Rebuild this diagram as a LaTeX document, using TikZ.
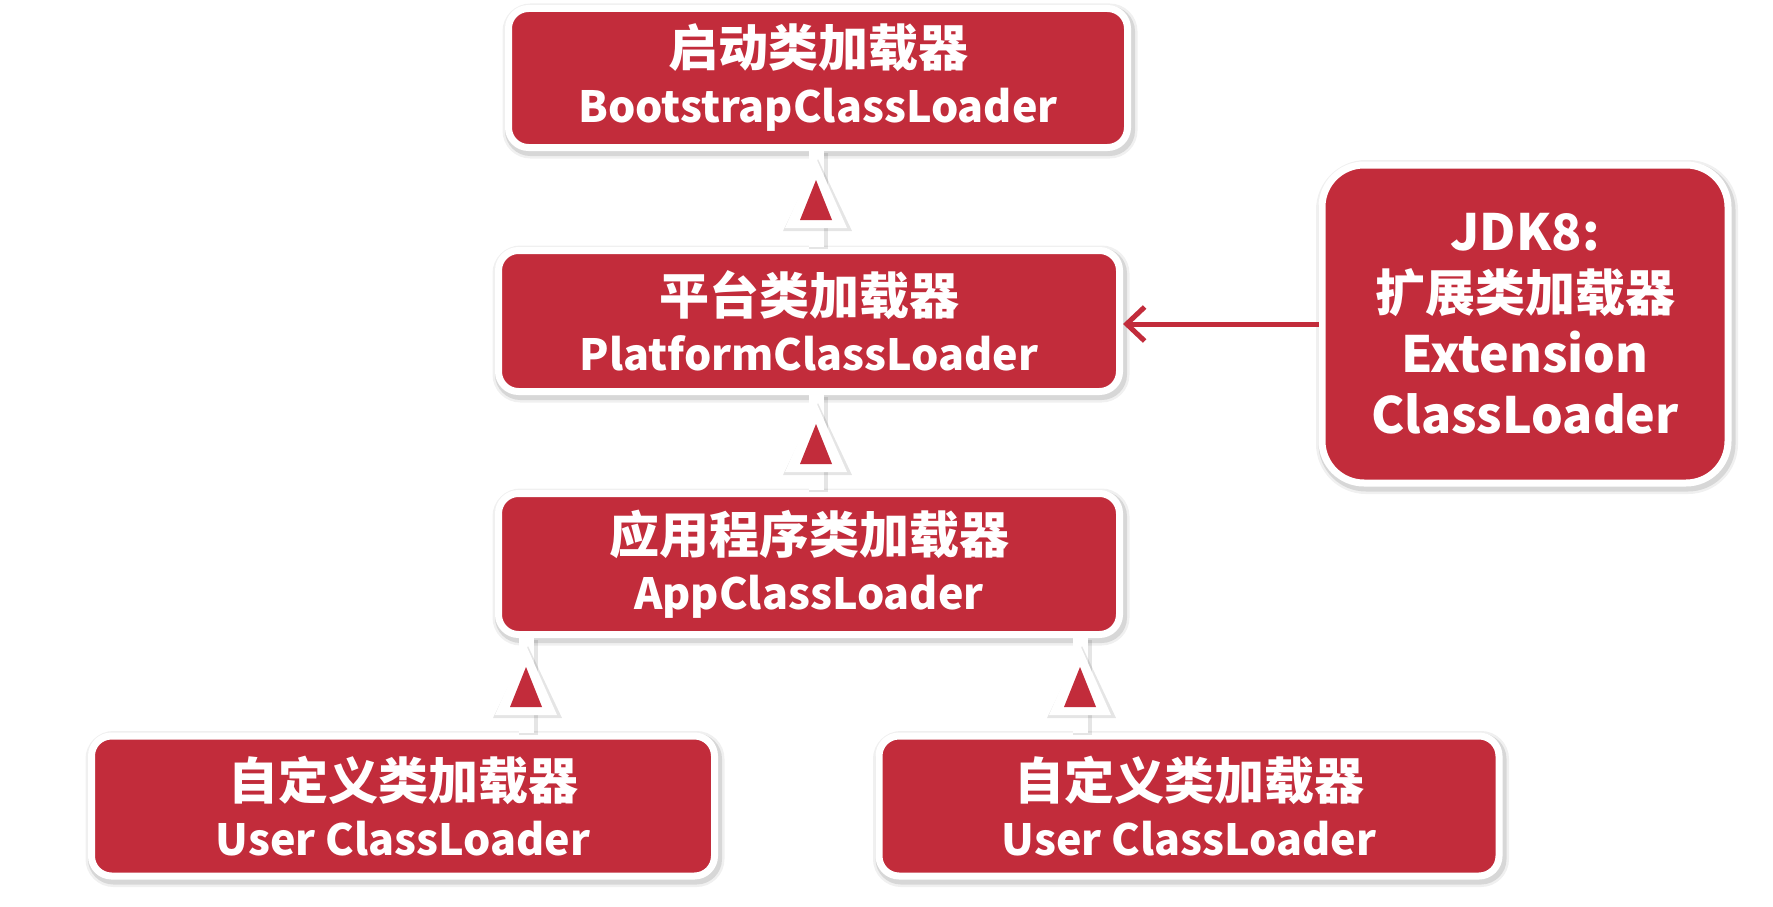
\documentclass[tikz,border=0pt]{standalone}
\usepackage{fontspec}
\setmainfont{Noto Sans CJK SC}
\usetikzlibrary{calc,arrows.meta}
\definecolor{boxred}{RGB}{194,44,59}
\newcommand{\lat}{\fontsize{43pt}{56pt}\selectfont}
\tikzset{
  box/.style={rectangle, rounded corners=20pt, fill=boxred, draw=white, line width=7pt,
    text=white, align=center, inner sep=0pt,
    font=\fontsize{50pt}{56pt}\selectfont\bfseries,
    preaction={draw=black, opacity=0.06, line width=16pt, transform canvas={shift={(2pt,-3pt)}}},
    preaction={draw=black, opacity=0.10, line width=11pt, transform canvas={shift={(2pt,-3pt)}}}},
  stem/.style={draw=white, line width=15pt,
    preaction={draw=black, opacity=0.10, line width=19pt, transform canvas={shift={(2pt,-2pt)}}}},
  extarrow/.style={draw=boxred, line width=5pt, -{Straight Barb[length=18pt,width=34pt,line width=5pt]}},
  inhtip/.pic={
    \fill[black, opacity=0.10] (2,1) -- (-33,73) -- (36,73) -- cycle;
    \fill[white] (0,0) -- (-31,70) -- (31,70) -- cycle;
    \fill[boxred] (0,22) -- (-16,62) -- (16,62) -- cycle;
  }
}
\begin{document}
\begin{tikzpicture}[x=1pt,y=-1pt]
\useasboundingbox[fill=white] (0,0) rectangle (1773,907);
% boxes
\node[box, minimum width=619pt, minimum height=139pt] (boot) at (818,78)
  {启动类加载器\\\lat BootstrapClassLoader};
\node[box, minimum width=621pt, minimum height=141pt] (plat) at (809,321)
  {平台类加载器\\\lat PlatformClassLoader};
\node[box, minimum width=621pt, minimum height=141pt] (app) at (809,564)
  {应用程序类加载器\\\lat AppClassLoader};
\node[box, minimum width=623pt, minimum height=140pt] (u1) at (403,806)
  {自定义类加载器\\\lat User ClassLoader};
\node[box, minimum width=620pt, minimum height=140pt] (u2) at (1189,806)
  {自定义类加载器\\\lat User ClassLoader};
\node[box, rounded corners=42pt, minimum width=406pt, minimum height=318pt,
  font=\fontsize{50pt}{61pt}\selectfont\bfseries] (ext) at (1525,324)
  {JDK8:\\扩展类加载器\\Extension\\ClassLoader};
% arrow x positions
\coordinate (c0) at (816,0);
\coordinate (c1) at (526,0);
\coordinate (c2) at (1080,0);
% stems
\draw[stem] (plat.north -| c0) -- (boot.south -| c0);
\draw[stem] (app.north -| c0) -- (plat.south -| c0);
\draw[stem] (u1.north -| c1) -- (app.south -| c1);
\draw[stem] (u2.north -| c2) -- (app.south -| c2);
% triangle tips
\pic at ($(boot.south -| c0)+(0,7)$) {inhtip};
\pic at ($(plat.south -| c0)+(0,7)$) {inhtip};
\pic at ($(app.south -| c1)+(0,7)$) {inhtip};
\pic at ($(app.south -| c2)+(0,7)$) {inhtip};
% extension arrow
\draw[extarrow] (ext.west) -- (ext.west -| plat.east);
\end{tikzpicture}
\end{document}
